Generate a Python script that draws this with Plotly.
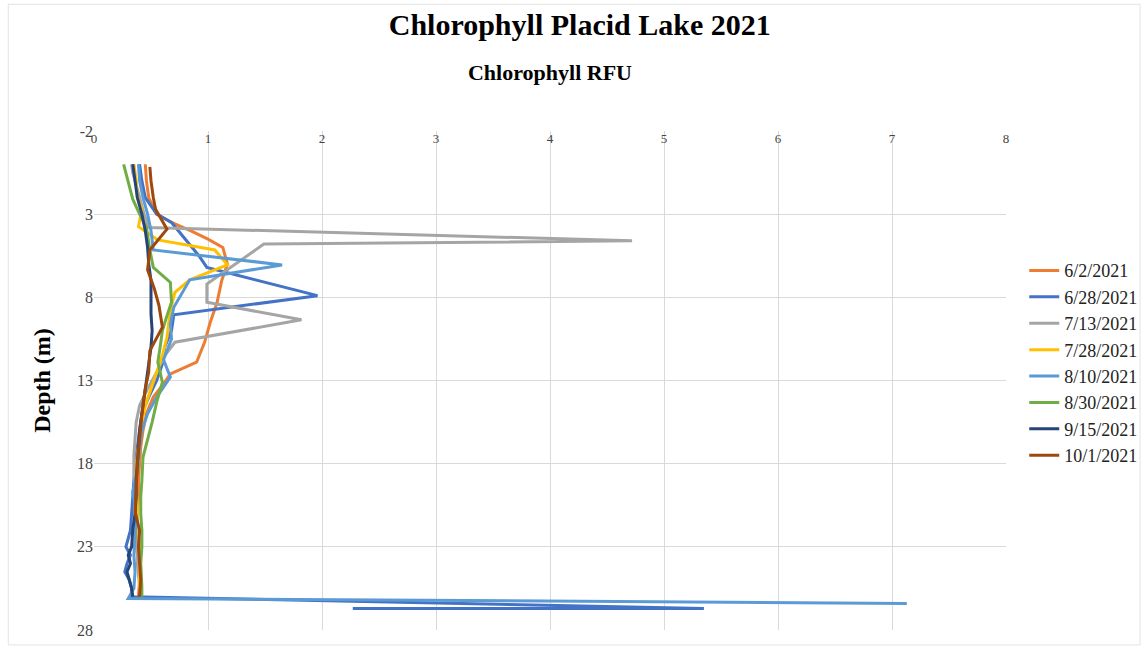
import plotly.graph_objects as go

# ---- data ----
series_names = ["6/2/2021", "6/28/2021", "7/13/2021", "7/28/2021",
                "8/10/2021", "8/30/2021", "9/15/2021", "10/1/2021"]

depth_0602 = [0, 1, 2, 3, 3.5, 4, 4.5, 5, 6, 7, 8.3, 9.5, 10.7, 11.9, 12.6, 13.3, 14, 15, 16, 17, 18, 19, 20, 21, 22, 23, 24, 25, 26]
chl_0602 = [0.45, 0.46, 0.48, 0.55, 0.68, 0.85, 1.0, 1.13, 1.17, 1.12, 1.08, 1.02, 0.97, 0.9, 0.67, 0.6, 0.52, 0.46, 0.43, 0.41, 0.4, 0.39, 0.39, 0.38, 0.38, 0.4, 0.38, 0.4, 0.39]

depth_0628 = [0, 1, 2, 3, 3.5, 4.5, 5.5, 6.2, 7.9, 9.05, 10, 11, 12, 13, 14, 15, 16, 17, 18, 19, 20, 21, 22, 22.5, 23, 23.5, 24, 24.5, 25, 25.5, 26, 26.7, 26.7]
chl_0628 = [0.4, 0.42, 0.45, 0.55, 0.68, 0.8, 0.92, 0.99, 1.96, 0.7, 0.68, 0.62, 0.6, 0.55, 0.48, 0.42, 0.4, 0.38, 0.36, 0.35, 0.34, 0.33, 0.32, 0.3, 0.28, 0.32, 0.29, 0.27, 0.31, 0.33, 0.33, 5.35, 2.27]

depth_0713 = [0, 0.5, 1, 1.5, 2, 2.5, 3, 3.8, 4.6, 4.8, 7.2, 8.3, 9.35, 10.7, 11.5, 12.5, 13.5, 14.5, 15.5, 16.5, 17.5, 18.5, 19.5, 20.5, 21.5, 22.5, 23.5, 24.5, 25.5]
chl_0713 = [0.33, 0.34, 0.36, 0.38, 0.40, 0.42, 0.44, 0.48, 4.72, 1.49, 0.99, 0.99, 1.82, 0.71, 0.62, 0.55, 0.47, 0.4, 0.37, 0.36, 0.35, 0.35, 0.36, 0.37, 0.38, 0.37, 0.38, 0.39, 0.4]

depth_0728 = [0, 1, 2, 2.7, 3.75, 4.55, 5.15, 6.05, 6.95, 7.7, 8.75, 10.4, 11.5, 12.5, 13.5, 14.5, 15.5, 16.5, 17.5, 18.5, 19.5, 20.5, 21.5, 22.5, 23.5, 24.5, 25.5]
chl_0728 = [0.35, 0.37, 0.38, 0.42, 0.39, 0.56, 1.06, 1.17, 0.84, 0.71, 0.67, 0.64, 0.6, 0.55, 0.5, 0.45, 0.42, 0.4, 0.38, 0.37, 0.37, 0.38, 0.38, 0.39, 0.4, 0.4, 0.4]

depth_0810 = [0, 1, 2, 3, 4, 5.15, 6.05, 6.95, 8.6, 9.6, 10.5, 11.75, 12.8, 14, 15, 16, 17, 18.4, 19.7, 20.5, 21.5, 22.5, 23.5, 24.5, 25.5, 26.1, 26.4]
chl_0810 = [0.39, 0.4, 0.43, 0.47, 0.5, 0.52, 1.65, 0.84, 0.7, 0.67, 0.68, 0.61, 0.67, 0.55, 0.47, 0.42, 0.4, 0.38, 0.34, 0.36, 0.37, 0.36, 0.35, 0.36, 0.35, 0.3, 7.13]

depth_0830 = [0, 1, 2.1, 3, 3.8, 5.15, 6.2, 7.1, 8.3, 9.1, 10, 11, 11.9, 13.1, 14.3, 15.5, 16.5, 17.6, 19, 20, 21, 22, 23, 24, 25.4, 26]
chl_0830 = [0.26, 0.3, 0.34, 0.4, 0.46, 0.49, 0.52, 0.67, 0.68, 0.64, 0.6, 0.58, 0.56, 0.6, 0.55, 0.51, 0.47, 0.43, 0.42, 0.41, 0.41, 0.42, 0.42, 0.41, 0.42, 0.42]

depth_0915 = [0, 1, 2, 3, 4, 5, 6, 7, 8, 9, 10, 11, 12, 13.5, 15, 16, 17, 18, 19, 20, 21, 22, 23, 23.5, 24, 24.5, 25, 25.5, 26]
chl_0915 = [0.34, 0.36, 0.38, 0.42, 0.45, 0.47, 0.48, 0.5, 0.5, 0.5, 0.51, 0.5, 0.48, 0.45, 0.42, 0.4, 0.39, 0.38, 0.37, 0.37, 0.36, 0.34, 0.33, 0.3, 0.32, 0.29, 0.31, 0.33, 0.34]

depth_1001 = [0.15, 1, 2, 2.7, 3.9, 5.15, 6.35, 7.5, 8.5, 9.8, 11.2, 12.5, 13.5, 15, 16.5, 18, 19.5, 20.9, 22, 23, 24, 25, 26]
chl_1001 = [0.49, 0.5, 0.52, 0.54, 0.64, 0.49, 0.47, 0.53, 0.57, 0.6, 0.49, 0.48, 0.45, 0.42, 0.4, 0.38, 0.37, 0.36, 0.4, 0.39, 0.4, 0.41, 0.4]

x_ticks = [0, 1, 2, 3, 4, 5, 6, 7, 8]
y_ticks = [-2, 3, 8, 13, 18, 23, 28]
y_tick_labels = ["-2", "3", "8", "13", "18", "23", "28"]

colors = ["#ED7D31", "#4472C4", "#A5A5A5", "#FFC000",
          "#5B9BD5", "#70AD47", "#264478", "#9E480E"]

depths = [depth_0602, depth_0628, depth_0713, depth_0728,
          depth_0810, depth_0830, depth_0915, depth_1001]
values = [chl_0602, chl_0628, chl_0713, chl_0728,
          chl_0810, chl_0830, chl_0915, chl_1001]

FONT = "Liberation Serif"

fig = go.Figure()
for name, d, v, c in zip(series_names, depths, values, colors):
    fig.add_trace(go.Scatter(
        x=v, y=d, mode="lines", name=name, legendgroup=name,
        line=dict(color=c, width=3),
    ))

fig.update_layout(
    width=1148, height=649,
    margin=dict(l=94, r=142, t=131, b=19, autoexpand=False),
    paper_bgcolor="white", plot_bgcolor="white",
    font=dict(family=FONT, color="#000000"),
    title=dict(text="<b>Chlorophyll Placid Lake 2021</b>", x=0.505, xanchor="center",
               y=0.962, yanchor="middle", font=dict(size=30, family=FONT, color="#000")),
    legend=dict(x=1.02, y=0.757, xanchor="left", yanchor="top",
                font=dict(size=18, family=FONT, color="#222"),
                tracegroupgap=0, traceorder="grouped", bgcolor="rgba(0,0,0,0)"),
    shapes=[dict(type="rect", xref="paper", yref="paper", x0=-0.094, x1=1.147, y0=-0.03, y1=1.254,
                 line=dict(color="#e3e3e3", width=1))],
)

fig.update_xaxes(
    side="top", range=[0, 8], tickvals=x_ticks, ticklabelposition="inside",
    ticklabeloverflow="allow",
    showgrid=True, gridcolor="#d9d9d9", gridwidth=1, zeroline=False,
    showline=False, tickfont=dict(size=13, family=FONT, color="#444"),
    title=dict(text="<b>Chlorophyll RFU</b>", font=dict(size=22, family=FONT, color="#000"), standoff=44),
)
fig.update_yaxes(
    range=[28, -2], tickvals=y_ticks, ticktext=y_tick_labels,
    showgrid=True, gridcolor="#d9d9d9", gridwidth=1,
    zeroline=False, showline=False, tickfont=dict(size=16, family=FONT, color="#444"),
    ticks="", ticklen=0, ticklabeloverflow="allow",
    title=dict(text="<b>Depth (m)</b>", font=dict(size=24, family=FONT, color="#000"), standoff=19),
)

fig.write_html("out.html", config={"displayModeBar": False},
               post_script="document.body.style.margin='0';")
